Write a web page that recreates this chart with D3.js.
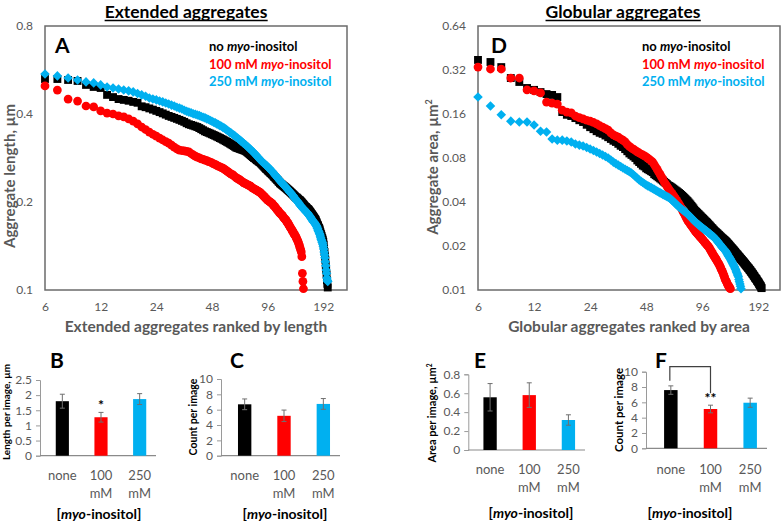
<!DOCTYPE html>
<html><head><meta charset="utf-8">
<script src="https://cdn.jsdelivr.net/npm/d3@7"></script>
<style>
body{margin:0;background:#fff}
svg{display:block;font-family:Lato,"Open Sans",sans-serif}
</style>
</head><body>
<svg id="c" width="782" height="522"></svg>
<script>
// ---------------- DATA ----------------
const rankStart = 6;                 // first visible rank on the x axis
const seriesLabels = ["no ", "100 mM ", "250 mM "];
const seriesKeys = ["none", "100", "250"];
const xTickValues = [6, 12, 24, 48, 96, 192];
const yTicksA = [0.1, 0.2, 0.4, 0.8];
const yTicksD = [0.01, 0.02, 0.04, 0.08, 0.16, 0.32, 0.64];

// Panel A: extended aggregate length (µm), by rank starting at rank 6
const lengthNone = [.527,.527,.523,.519,.503,.495,.491,.465,.457,.450,.447,.444,.440,.437,.425,.422,.418,.414,.410,.406,.402,.398,.394,.391,.388,.385,.382,.379,.376,.372,.369,.367,.365,.363,.361,.358,.355,.352,.349,.347,.345,.343,.341,
 .339,.337,.335,.333,.331,.329,.327,.325, .323,.321,.319,.317,.315,.313,.311,.309, .307,.306,.305,.304,.303,.302,.301,.300,
 .299,.297,.295,.293,.291,.289,.287,.285, .283,.282,.280,.278,.277,.275,.274,.272, .270,.268,.266,.264,.262,.260,.259,.257,
 .255,.254,.252,.251,.249,.248,.246,.244,.243,.241,.240,.238,.237,.235,.234,.232,
 .231,.230,.229,.228,.227,.226,.225,.224,.223,.222,.221,.220,.219,.218,.217,.216,
 .215,.214,.213,.212,.211,.210,.209,.208,.207,.207,.206,.205,.204,.203,.203,.202,
 .201,.200,.199,.198,.197,.196,.195,.194,.193,.192,.192,.191,.190,.189,.189,.188,
 .187,.186,.185,.184,.183,.182,.181,.180,.179,.178,.177,.176,.175,.174,.173,.171,
 .170,.168,.167,.166,.164,.163,.162,.160, .158,.156,.155,.153,.151,.150,.148,.146,
 .143,.139,.135,.131,.127,.122,.117,.113,.108,.105,.102];
const length100 = [.499,.483,.450,.443,.426,.423,.410,.403,.400,.394,.391,.385,.378,.370,.361,.354,.347,.341,.336,.331,.326,.322,.318,.313,.308,.304,.301,.300,.299,.298,.297,.293,.290,.287,.285,.283,.281,.280,.278,.277,.275,.274,.272,
 .270,.269,.267,.265,.264,.262,.261,.259, .257,.255,.253,.251,.249,.248,.246,.244, .242,.241,.239,.238,.236,.235,.233,.232,
 .231,.230,.229,.228,.227,.226,.224,.223, .222,.221,.220,.219,.218,.217,.216,.215, .213,.212,.210,.209,.207,.206,.204,.203,
 .202,.201,.200,.199,.198,.197,.195,.194, .193,.191,.190,.188,.187,.186,.184,.183, .182,.181,.180,.179,.177,.176,.175,.174,
 .173,.171,.170,.169,.167,.166,.164,.163, .162,.160,.159,.158,.156,.155,.154,.153,
 .151,.150,.148,.147, .145,.143,.141,.139, .137,.135,.130,.114,.107,.101];
const length250 = [.548,.540,.531,.523,.515,.511,.503,.495,.491,.487,.483,.480,.476,.470,.465,.460,.454,.450,.447,.443,.440,.436,.433,.429,.426,.422,.419,.416,.412,.409,.406,.404,.401,.399,.397,.395,.392,.390,.388,.385,.383,.380,.378,
 .375,.373,.370,.368,.365,.363,.360,.358, .355,.352,.349,.346,.344,.341,.339,.336, .333,.331,.328,.326,.323,.321,.318,.316,
 .314,.311,.309,.306,.304,.302,.299,.297, .295,.292,.290,.287,.285,.283,.280,.278, .276,.274,.272,.271,.269,.267,.266,.264,
 .262,.261,.259,.257,.255,.254,.252,.250,.248,.246,.245,.243,.241,.240,.238,.236,
 .235,.233,.232,.231,.229,.228,.227,.225,.224,.223,.221,.220,.219,.217,.216,.215,
 .214,.212,.211,.210,.208,.207,.206,.204,.203,.202,.201,.200,.199,.198,.196,.195,
 .194,.193,.192,.191,.190,.189,.189,.188,.187,.186,.185,.184,.184,.183,.182,.181,
 .180,.179,.178,.177,.176,.175,.174,.173,.172,.171,.171,.170,.169,.168,.167,.166,
 .165,.163,.162,.160,.159,.158,.156,.155, .153,.151,.149,.148,.146,.145,.143,.141,
 .138,.135,.132,.129,.125,.121,.117,.114,.110,.108,.107];

// Panel D: globular aggregate area (µm²), by rank starting at rank 6
const areaNone = [.375,.363,.335,.282,.265,.241,.234,.226,.219,.216,.209,.165,.158,.155,.150,.145,.141,.135,.130,.126,.122,.119,.117,.114,.111,.108,.105,.103,.100,.097,.095,.092,.089,.086,.084,.082,.080,.077,.075,.073,.071,.070,.068,
 .067,.066,.065,.064,.062,.061,.060,.059, .058,.057,.056,.055,.054,.053,.052,.0515,
 .0508,.0501,.0494,.0487,.0480,.0474,.0467,.0461, .0454,.0447,.0440,.0433,.0426,.0419,.0412,.0406,
 .0398,.0391,.0384,.0376,.0369,.0362,.0354,.0347, .0343,.0338,.0333,.0329,.0324,.0320,.0315,.0311,
 .0307,.0303,.0299,.0295,.0292,.0288,.0284,.0280,.0277,.0273,.0269,.0266,.0263,.0259,.0256,.0253,
 .0250,.0248,.0245,.0243,.0240,.0238,.0235,.0233,.0230,.0228,.0226,.0224,.0222,.0220,.0218,.0216,
 .0214,.0212,.0209,.0207,.0205,.0203,.0200,.0198,.0196,.0194,.0192,.0190,.0188,.0186,.0184,.0182,
 .0180,.0178,.0176,.0175,.0173,.0171,.0169,.0168,.0166,.0164,.0163,.0161,.0160,.0158,.0157,.0155,
 .0154,.0152,.0151,.0149,.0148,.0146,.0145,.0144,.0142,.0141,.0140,.0138,.0137,.0136,.0134,.0133,
 .0132,.0130,.0129,.0128,.0126,.0125,.0124,.0122,.0121,.0120,.0119,.0118,.0116,.0115,.0114,.0113,
 .0112,.0110,.0109,.0108,.0107,.0106,.0104,.0103];
const area100 = [.335,.325,.325,.282,.282,.234,.230,.223,.193,.190,.187,.170,.165,.163,.155,.151,.148,.145,.143,.140,.137,.133,.130,.127,.124,.119,.115,.113,.111,.108,.106,.103,.099,.096,.0936,.092,.090,.088,.0866,.0852,.0839,.0826,.0813,
 .0797,.0781,.0766,.0750, .0722,.0694,.0668,.0642, .0618,.0594,.0571,.0548, .0531,.0514,.0498,.0483,
 .0470,.0458,.0446,.0434,.0422,.0410,.0399,.0388, .0376,.0364,.0352,.0341,.0331,.0320,.0310,.0301,
 .0294,.0288,.0281,.0275,.0270,.0264,.0258,.0253, .0249,.0245,.0241,.0237,.0233,.0230,.0226,.0223,
 .0219,.0216,.0212,.0209,.0206,.0203,.0200,.0197, .0193,.0189,.0185,.0181,.0178,.0174,.0171,.0168,
 .0165,.0162,.0159,.0156,.0153,.0150,.0147,.0144, .0140,.0137,.0134,.0131,.0127,.0124,.0120,.0117,
 .0115,.0113,.0110,.0108,.0106,.0105,.0103,.0102];
const area250 = [.209,.1815,.158,.143,.141,.141,.1345,.122,.1205,.108,.106,.106,.1045,.103,.0997,.098,.0967,.0944,.0922,.090,.0879,.0859,.0839,.0819,.080,.0775,.075,.0732,.0715,.0699,.0683,.0670,.0657,.0644,.0632,.0615,.0598,.0582,.0566,.0555,.0544,.0533,.0523,
 .0516,.0509,.0502,.0495,.0488,.0481,.0474,.0468, .0462,.0457,.0451,.0446,.0441,.0436,.0431,.0426,
 .0419,.0412,.0405,.0397,.0390,.0383,.0377,.0370, .0365,.0360,.0355,.0350,.0345,.0340,.0336,.0331,
 .0326,.0321,.0316,.0311,.0306,.0301,.0297,.0292, .0289,.0285,.0282,.0279,.0275,.0272,.0269,.0266,
 .0263,.0261,.0258,.0256,.0253,.0251,.0248,.0246,.0243,.0241,.0238,.0236,.0234,.0232,.0229,.0227,
 .0224,.0221,.0218,.0215,.0212,.0209,.0206,.0204,.0201,.0198,.0196,.0193,.0191,.0189,.0187,.0185,
 .0182,.0179,.0176,.0173,.0170,.0168,.0165,.0163, .0160,.0157,.0154,.0151,.0149,.0146,.0144,.0141,
 .0138,.0135,.0132,.0129,.0126,.0123, .0118,.0114,.0110,.0106,.0102];

// Bar panels
const catLine1 = ["none", "100", "250"];
const catLine2 = ["", "mM", "mM"];
const lenPerImage = [1.80, 1.27, 1.87];
const lenPerImageErr = [0.23, 0.16, 0.18];
const extCount = [6.7, 5.2, 6.75];
const extCountErr = [0.7, 0.75, 0.7];
const areaPerImage = [0.557, 0.58, 0.317];
const areaPerImageErr = [0.145, 0.13, 0.055];
const globCount = [7.6, 5.13, 5.95];
const globCountErr = [0.55, 0.5, 0.6];
const ticksB = [0, 0.5, 1, 1.5, 2, 2.5];
const ticksC = [0, 2, 4, 6, 8, 10];
const ticksE = [0, 0.2, 0.4, 0.6, 0.8];
const ticksF = [0, 2, 4, 6, 8, 10];

// ---------------- DRAWING ----------------
const svg = d3.select("#c");
const GRAY = "#595959";
const COL = ["#000000", "#ff0000", "#00b0f0"];
const FONT = 'Lato, "Open Sans", sans-serif';

function txt(g, x, y, s, o = {}) {
  return g.append("text").attr("x", x).attr("y", y).text(s)
    .attr("font-size", o.size || 12).attr("fill", o.fill || "#000")
    .attr("font-weight", o.bold ? "bold" : "normal")
    .attr("text-anchor", o.anchor || "start");
}

function legendLine(g, x, y, prefix, color) {
  const t = g.append("text").attr("x", x).attr("y", y).attr("font-size", 13)
    .attr("font-weight", "bold").attr("fill", color);
  t.append("tspan").text(prefix);
  t.append("tspan").attr("font-style", "italic").text("myo");
  t.append("tspan").text("-inositol");
}

function scatterPanel(cfg) {
  const g = svg.append("g");
  const x = d3.scaleLog().base(2).domain(cfg.xDomain).range([cfg.left, cfg.right]);
  const y = d3.scaleLog().base(2).domain(cfg.yDomain).range([cfg.bottom, cfg.top]);

  const ax = g.append("g").attr("transform", `translate(0,${cfg.bottom})`)
    .call(d3.axisBottom(x).tickValues(xTickValues).tickSize(0).tickPadding(12.5).tickFormat(d => String(d)));
  const ay = g.append("g").attr("transform", `translate(${cfg.left},0)`)
    .call(d3.axisLeft(y).tickValues(cfg.yTicks).tickSize(0).tickPadding(12).tickFormat(d => String(d)));
  [ax, ay].forEach(a => {
    a.select(".domain").remove();
    a.selectAll("text").attr("font-size", 12).attr("fill", GRAY).attr("font-family", FONT);
  });

  g.append("rect").attr("x", cfg.left).attr("y", cfg.top)
    .attr("width", cfg.right - cfg.left).attr("height", cfg.bottom - cfg.top)
    .attr("fill", "none").attr("stroke", "#6b6b6b").attr("stroke-width", 1.5);

  const shapes = [
    {type: d3.symbolSquare, size: 62, rot: 0},
    {type: d3.symbolCircle, size: 60, rot: 0},
    {type: d3.symbolSquare, size: 46, rot: 45}
  ];
  cfg.series.forEach((vals, si) => {
    const sym = d3.symbol().type(shapes[si].type).size(shapes[si].size);
    g.append("g").selectAll("path").data(vals).enter().append("path")
      .attr("d", sym)
      .attr("fill", COL[si])
      .attr("transform", (d, i) => `translate(${x(rankStart + i)},${y(d)}) rotate(${shapes[si].rot})`);
  });

  // title
  const tt = txt(g, cfg.titleX, 18, cfg.title, {size: 17.5, bold: true, anchor: "middle"});
  const bb = tt.node().getBBox();
  g.append("line").attr("x1", bb.x).attr("x2", bb.x + bb.width).attr("y1", 20.5).attr("y2", 20.5)
    .attr("stroke", "#000").attr("stroke-width", 1.6);

  txt(g, cfg.letterX, 53, cfg.letter, {size: 21, bold: true});
  seriesLabels.forEach((s, i) => legendLine(g, cfg.legendX, 51 + i * 17.5, s, COL[i]));

  txt(g, (cfg.left + cfg.right) / 2, 332, cfg.xTitle, {size: 15.5, bold: true, anchor: "middle", fill: GRAY});
  const yt = g.append("text").attr("transform", `translate(${cfg.yTitleX},${cfg.yTitleY}) rotate(-90)`)
    .attr("text-anchor", "middle").attr("font-size", 15).attr("font-weight", "bold").attr("fill", GRAY);
  yt.append("tspan").text(cfg.yTitle);
  if (cfg.yTitleSup) yt.append("tspan").attr("font-size", 9).attr("dy", -6).text(cfg.yTitleSup);
}

scatterPanel({
  left: 45, right: 347, top: 26, bottom: 290,
  xDomain: [6, 258], yDomain: [0.1, 0.8], yTicks: yTicksA,
  series: [lengthNone, length100, length250],
  title: "Extended aggregates", titleX: 186, letter: "A", letterX: 55, legendX: 209,
  xTitle: "Extended aggregates ranked by length",
  yTitle: "Aggregate length, µm", yTitleX: 14.5, yTitleY: 176
});
scatterPanel({
  left: 478, right: 780, top: 26, bottom: 290,
  xDomain: [6, 251], yDomain: [0.01, 0.64], yTicks: yTicksD,
  series: [areaNone, area100, area250],
  title: "Globular aggregates", titleX: 623, letter: "D", letterX: 491, legendX: 642,
  xTitle: "Globular aggregates ranked by area",
  yTitle: "Aggregate area, µm", yTitleSup: "2", yTitleX: 438, yTitleY: 167
});

function barPanel(cfg) {
  const g = svg.append("g");
  const y = d3.scaleLinear().domain([0, cfg.ticks[cfg.ticks.length - 1]]).range([cfg.bottom, cfg.top]);
  const x = d3.scaleBand().domain(seriesKeys).range([cfg.bandStart, cfg.bandEnd]);
  const bw = x.bandwidth();

  const ay = g.append("g").attr("transform", `translate(${cfg.axisX},0)`)
    .call(d3.axisLeft(y).tickValues(cfg.ticks).tickSize(4).tickPadding(4).tickFormat(d => String(+d.toFixed(2))));
  ay.select(".domain").attr("stroke", "#9a9a9a");
  ay.selectAll("line").attr("stroke", "#9a9a9a");
  ay.selectAll("text").attr("font-size", 12).attr("fill", GRAY).attr("font-family", FONT);
  g.append("line").attr("x1", cfg.axisX).attr("x2", cfg.bandEnd - 3).attr("y1", y(0)).attr("y2", y(0))
    .attr("stroke", "#8a8a8a").attr("stroke-width", 1.2);

  seriesKeys.forEach((k, i) => {
    const cx = x(k) + bw / 2;
    const v = cfg.values[i], e = cfg.errs[i];
    g.append("rect").attr("x", cx - bw * 0.17).attr("width", bw * 0.34)
      .attr("y", y(v)).attr("height", y(0) - y(v)).attr("fill", COL[i]);
    g.append("line").attr("x1", cx).attr("x2", cx).attr("y1", y(v + e)).attr("y2", y(v - e))
      .attr("stroke", "#6f6f6f").attr("stroke-width", 1);
    [v + e, v - e].forEach(w => g.append("line").attr("x1", cx - 2.5).attr("x2", cx + 2.5)
      .attr("y1", y(w)).attr("y2", y(w)).attr("stroke", "#6f6f6f").attr("stroke-width", 1));
    txt(g, cx, cfg.catY, catLine1[i], {size: 13, fill: GRAY, anchor: "middle"});
    txt(g, cx, cfg.catY + 18, catLine2[i], {size: 13, fill: GRAY, anchor: "middle"});
    if (cfg.stars && cfg.stars[i]) txt(g, cx, y(v + e) - 2, cfg.stars[i], {size: 14, bold: true, anchor: "middle"});
  });

  if (cfg.bracket) {
    const [a, b] = cfg.bracket;
    const xa = x(seriesKeys[a]) + bw / 2 - 1, xb = x(seriesKeys[b]) + bw / 2;
    const top = y(cfg.ticks[cfg.ticks.length - 1]) - 5;
    g.append("path")
      .attr("d", `M${xa},${y(cfg.values[a] + cfg.errs[a]) - 5}V${top}H${xb}V${y(cfg.values[b] + cfg.errs[b]) - 12}`)
      .attr("fill", "none").attr("stroke", "#404040").attr("stroke-width", 1.2);
  }

  txt(g, cfg.letterX, 368, cfg.letter, {size: 21, bold: true});
  const yt = g.append("text").attr("transform", `translate(${cfg.yTitleX},${cfg.yTitleY}) rotate(-90)`)
    .attr("text-anchor", "middle").attr("font-size", cfg.yTitleSize).attr("font-weight", "bold").attr("fill", "#000");
  yt.append("tspan").text(cfg.yTitle);
  if (cfg.yTitleSup) yt.append("tspan").attr("font-size", cfg.yTitleSize * 0.6).attr("dy", -4).text(cfg.yTitleSup);

  const xt = g.append("text").attr("x", cfg.xTitleX).attr("y", cfg.xTitleY).attr("text-anchor", "middle")
    .attr("font-size", 14).attr("font-weight", "bold").attr("fill", "#000");
  xt.append("tspan").text("[");
  xt.append("tspan").attr("font-style", "italic").text("myo");
  xt.append("tspan").text("-inositol]");
}

barPanel({axisX: 40, bandStart: 43, bandEnd: 159, top: 380, bottom: 455.7, ticks: ticksB,
  values: lenPerImage, errs: lenPerImageErr, stars: ["", "*", ""], catY: 480,
  letter: "B", letterX: 50, yTitle: "Length per image, µm", yTitleSize: 10, yTitleX: 10, yTitleY: 412,
  xTitleX: 99, xTitleY: 519});
barPanel({axisX: 221, bandStart: 225, bandEnd: 343, top: 379, bottom: 455.7, ticks: ticksC,
  values: extCount, errs: extCountErr, catY: 480,
  letter: "C", letterX: 230, yTitle: "Count per image", yTitleSize: 10.5, yTitleX: 197, yTitleY: 417,
  xTitleX: 285, xTitleY: 519});
barPanel({axisX: 468.3, bandStart: 470.5, bandEnd: 588, top: 374.3, bottom: 450, ticks: ticksE,
  values: areaPerImage, errs: areaPerImageErr, catY: 474,
  letter: "E", letterX: 474, yTitle: "Area per image, µm", yTitleSup: "2", yTitleSize: 11, yTitleX: 436, yTitleY: 413,
  xTitleX: 531, xTitleY: 518});
barPanel({axisX: 646, bandStart: 651, bandEnd: 770, top: 371.7, bottom: 448.3, ticks: ticksF,
  values: globCount, errs: globCountErr, stars: ["", "**", ""], bracket: [0, 1], catY: 474,
  letter: "F", letterX: 655, yTitle: "Count per image", yTitleSize: 11.5, yTitleX: 623, yTitleY: 410,
  xTitleX: 690, xTitleY: 518});
</script>
</body></html>
